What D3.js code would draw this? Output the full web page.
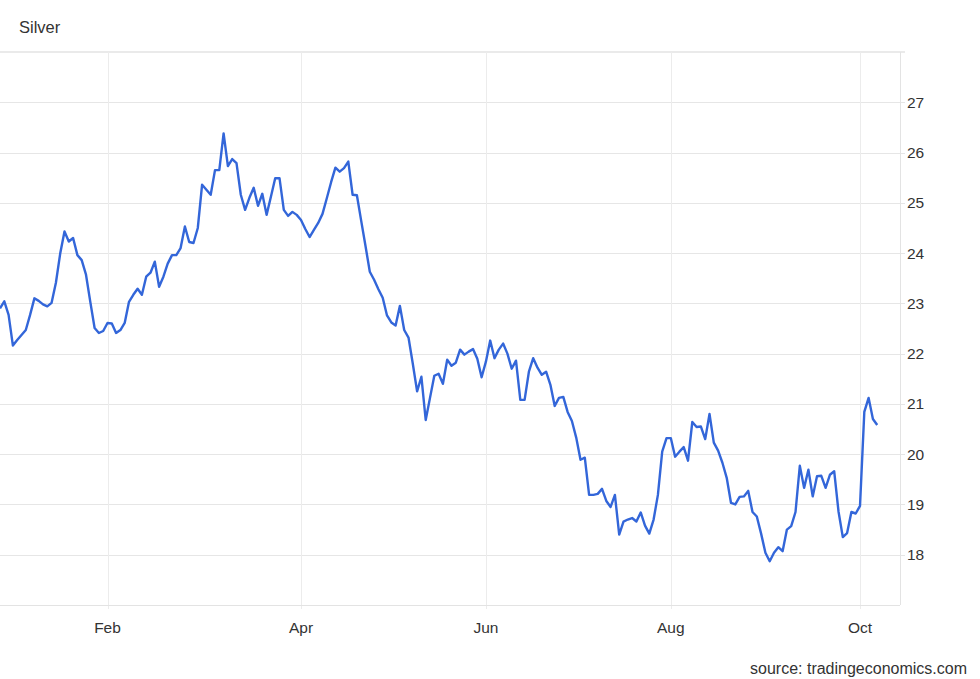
<!DOCTYPE html>
<html>
<head>
<meta charset="utf-8">
<script src="https://cdn.jsdelivr.net/npm/d3@7"></script>
<style>
  body { margin: 0; background: #fff; }
  svg { display: block; font-family: "Liberation Sans", Arial, sans-serif; }
</style>
</head>
<body>
<svg id="chart" width="980" height="679"></svg>
<script>
// month labels and the trading day (index into prices) where each starts
const months = ["Feb", "Apr", "Jun", "Aug", "Oct"];
const monthDays = [25, 70, 113, 156, 200];

// y axis tick labels
const yTicks = [18, 19, 20, 21, 22, 23, 24, 25, 26, 27];

// daily silver price, USD/oz (one value per trading day)
const prices = [
  22.90, 23.04, 22.77, 22.16, 22.27, 22.37, 22.47, 22.77, 23.10, 23.05,
  22.98, 22.94, 23.01, 23.41, 23.99, 24.43, 24.23, 24.30, 23.96, 23.86,
  23.57, 23.03, 22.51, 22.41, 22.45, 22.61, 22.60, 22.41, 22.47, 22.61,
  23.03, 23.17, 23.29, 23.17, 23.53, 23.61, 23.83, 23.33, 23.53, 23.79,
  23.96, 23.96, 24.10, 24.53, 24.22, 24.20, 24.50, 25.36, 25.26, 25.16,
  25.65, 25.65, 26.38, 25.73, 25.87, 25.79, 25.16, 24.86, 25.10, 25.30,
  24.94, 25.18, 24.76, 25.12, 25.49, 25.49, 24.86, 24.74, 24.82, 24.76,
  24.66, 24.48, 24.32, 24.46, 24.60, 24.78, 25.09, 25.41, 25.70, 25.62,
  25.69, 25.82, 25.16, 25.15, 24.64, 24.14, 23.63, 23.47, 23.28, 23.11,
  22.76, 22.62, 22.56, 22.95, 22.47, 22.32, 21.80, 21.25, 21.54, 20.68,
  21.12, 21.56, 21.60, 21.40, 21.88, 21.76, 21.82, 22.08, 21.98, 22.04,
  22.09, 21.90, 21.53, 21.84, 22.26, 21.91, 22.08, 22.20, 22.00, 21.70,
  21.86, 21.08, 21.08, 21.64, 21.91, 21.72, 21.58, 21.64, 21.38, 20.96,
  21.12, 21.14, 20.84, 20.66, 20.33, 19.89, 19.93, 19.19, 19.19, 19.21,
  19.31, 19.07, 18.95, 19.19, 18.40, 18.66, 18.70, 18.73, 18.66, 18.84,
  18.58, 18.42, 18.70, 19.19, 20.05, 20.32, 20.32, 19.95, 20.05, 20.14,
  19.87, 20.64, 20.54, 20.55, 20.30, 20.80, 20.23, 20.07, 19.83, 19.53,
  19.03, 19.00, 19.15, 19.16, 19.27, 18.85, 18.76, 18.42, 18.04, 17.87,
  18.04, 18.15, 18.07, 18.50, 18.57, 18.85, 19.77, 19.33, 19.69, 19.16,
  19.56, 19.57, 19.33, 19.59, 19.66, 18.86, 18.35, 18.43, 18.85, 18.82,
  18.97, 20.84, 21.12, 20.70, 20.58
];

const width = 980;
const height = 679;
const plot = { left: 0, right: 900, top: 52, bottom: 605 };

const svg = d3.select("#chart");

const x = d3.scaleLinear()
  .domain([0, 209.3])
  .range([plot.left, plot.right]);

const y = d3.scaleLinear()
  .domain([17, 28])
  .range([plot.bottom, plot.top]);

// title
svg.append("text")
  .attr("x", 19)
  .attr("y", 33)
  .attr("font-size", 16.5)
  .attr("fill", "#333")
  .text("Silver");

// header separator
svg.append("line")
  .attr("x1", 0).attr("x2", 905)
  .attr("y1", plot.top).attr("y2", plot.top)
  .attr("stroke", "#e3e3e3")
  .attr("stroke-width", 1.5);

// horizontal grid
svg.append("g")
  .selectAll("line")
  .data(yTicks)
  .join("line")
  .attr("x1", plot.left)
  .attr("x2", plot.right + 5)
  .attr("y1", (d) => Math.round(y(d)) + 0.5)
  .attr("y2", (d) => Math.round(y(d)) + 0.5)
  .attr("stroke", "#e6e6e6");

// vertical grid
svg.append("g")
  .selectAll("line")
  .data(monthDays)
  .join("line")
  .attr("x1", (d) => Math.round(x(d)) + 0.5)
  .attr("x2", (d) => Math.round(x(d)) + 0.5)
  .attr("y1", plot.top)
  .attr("y2", plot.bottom + 4)
  .attr("stroke", "#ececec");

// frame: right and bottom edges
svg.append("line")
  .attr("x1", plot.right + 0.5).attr("x2", plot.right + 0.5)
  .attr("y1", plot.top).attr("y2", plot.bottom)
  .attr("stroke", "#e3e3e3");
svg.append("line")
  .attr("x1", plot.left).attr("x2", plot.right)
  .attr("y1", plot.bottom + 0.5).attr("y2", plot.bottom + 0.5)
  .attr("stroke", "#e3e3e3");

// y labels on the right
svg.append("g")
  .selectAll("text")
  .data(yTicks)
  .join("text")
  .attr("x", plot.right + 7)
  .attr("y", (d) => y(d))
  .attr("dy", "0.36em")
  .attr("font-size", 15.5)
  .attr("fill", "#333")
  .text((d) => d);

// month labels
svg.append("g")
  .selectAll("text")
  .data(months)
  .join("text")
  .attr("x", (d, i) => x(monthDays[i]))
  .attr("y", 633)
  .attr("text-anchor", "middle")
  .attr("font-size", 15.5)
  .attr("fill", "#333")
  .text((d) => d);

// price line
const line = d3.line()
  .x((d, i) => x(i))
  .y((d) => y(d));

svg.append("path")
  .datum(prices)
  .attr("d", line)
  .attr("fill", "none")
  .attr("stroke", "#3366d9")
  .attr("stroke-width", 2.4)
  .attr("stroke-linejoin", "round");

// source note
svg.append("text")
  .attr("x", 967)
  .attr("y", 674)
  .attr("text-anchor", "end")
  .attr("font-size", 16)
  .attr("fill", "#333")
  .text("source: tradingeconomics.com");
</script>
</body>
</html>
